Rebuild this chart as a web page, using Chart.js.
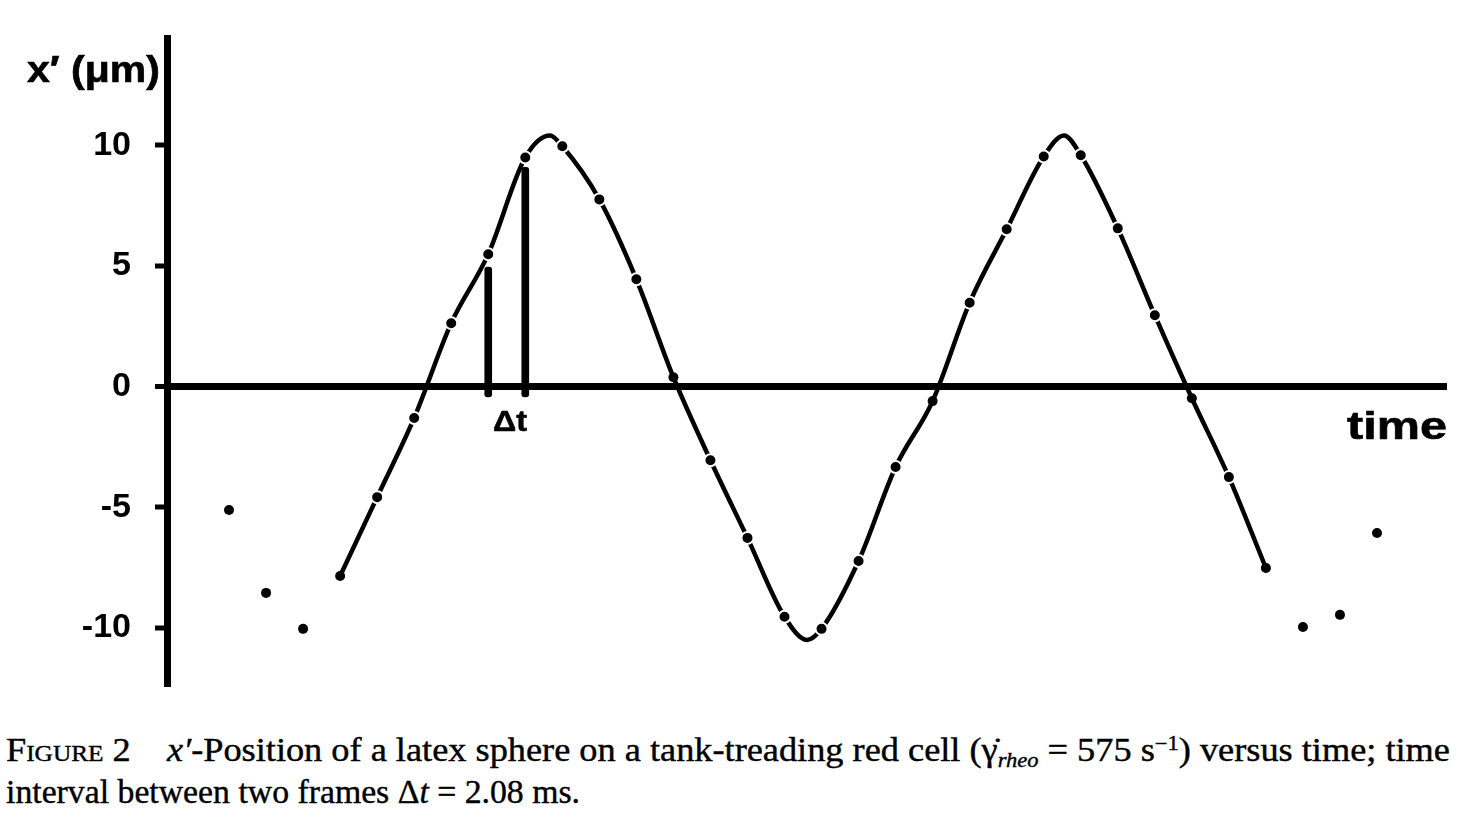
<!DOCTYPE html>
<html>
<head>
<meta charset="utf-8">
<script src="https://cdn.jsdelivr.net/npm/chart.js@4/dist/chart.umd.min.js"></script>
<style>
  html, body { margin: 0; padding: 0; background: #fff; }
  body { width: 1458px; height: 828px; position: relative; overflow: hidden; }
  #c { position: absolute; left: 0; top: 0; }
  .lbl { position: absolute; white-space: pre; line-height: 1; color: #000; transform-origin: 0 0; }
  .sans { font-family: "Liberation Sans", Arial, sans-serif; font-weight: bold; -webkit-text-stroke: 0.6px #000; }
  .serif { font-family: "Liberation Serif", "Times New Roman", serif; font-size: 33px; -webkit-text-stroke: 0.4px #000; }
  .serif sub, .serif sup { vertical-align: baseline; position: relative; font-size: 0.62em; }
  .serif sub { top: 0.3em; }
  .serif sup { top: -0.55em; }
</style>
</head>
<body>
<canvas id="c" width="1458" height="720"></canvas>

<div class="lbl sans" style="left:27px; top:52px; font-size:36px;" data-w="133">x′ (μm)</div>
<div class="lbl sans" style="left:1347px; top:407px; font-size:38px;" data-w="100">time</div>
<div class="lbl sans" style="left:493px; top:406px; font-size:30px;" data-w="34">Δt</div>

<div class="lbl serif" style="left:6px; top:734px;" data-w="1444"><span style="font-variant:small-caps">Figure</span> 2    <i>x′</i>-Position of a latex sphere on a tank-treading red cell (γ̇<sub><i>rheo</i></sub> = 575 s<sup>−1</sup>) versus time; time</div>
<div class="lbl serif" style="left:6px; top:776px;" data-w="574">interval between two frames Δ<i>t</i> = 2.08 ms.</div>

<script>
// ---- data ----
const frames = [1,2,3,4,5,6,7,8,9,10,11,12,13,14,15,16,17,18,19,20,21,22,23,24,25,26,27,28,29,30,31,32];
const positions = [-5.11,-8.55,-10.04,-7.85,-4.58,-1.30,2.63,5.49,9.50,9.96,7.76,4.45,0.39,-3.05,-6.27,-9.54,-10.04,-7.23,-3.33,-0.60,3.48,6.52,9.54,9.59,6.56,2.96,-0.48,-3.75,-7.52,-9.96,-9.46,-6.07];
// fitted curve: drawn through frames 4..29, with its turning points
const curveFirstFrame = 4;
const curveLastFrame = 29;
const extremaFrames = [9.67, 16.61, 23.55];
const extremaValues = [10.41, -10.50, 10.41];
// the two Δt marker bars
const barFrames = [8, 9];
const barLow = [-0.43, -0.43];
const barHigh = [4.95, 9.09];
// axis
const yTicks = [-10, -5, 0, 5, 10];
const yMin = -12.45, yMax = 14.45;
const xMin = -0.675, xMax = 33.89;

// ---- build datasets ----
const dotData = frames.map((f, i) => ({ x: f, y: positions[i] }));
let curveData = frames.map((f, i) => ({ x: f, y: positions[i] }))
  .filter(p => p.x >= curveFirstFrame && p.x <= curveLastFrame)
  .concat(extremaFrames.map((f, i) => ({ x: f, y: extremaValues[i] })));
curveData.sort((a, b) => a.x - b.x);
const barData = barFrames.map((f, i) => ({ x: f, y: [barLow[i], barHigh[i]] }));

// small white gap where the drawn curve meets a measured dot (not near the zero line)
const onCurve = c => {
  const p = c.raw; if (!p) return false;
  return p.x > curveFirstFrame && p.x < curveLastFrame && Math.abs(p.y) > 1.2;
};

new Chart(document.getElementById('c'), {
  data: {
    datasets: [
      { type: 'scatter', data: dotData, order: 0,
        pointRadius: c => onCurve(c) ? 6 : 5, pointHoverRadius: 5,
        pointBackgroundColor: '#000', pointBorderColor: '#fff',
        pointBorderWidth: c => onCurve(c) ? 2 : 0, showLine: false },
      { type: 'bar', data: barData, order: 1,
        backgroundColor: '#000', barThickness: 7, borderRadius: 3, borderSkipped: false },
      { type: 'line', data: curveData, order: 2,
        borderColor: '#000', borderWidth: 4.5, pointRadius: 0, fill: false,
        cubicInterpolationMode: 'monotone', borderCapStyle: 'round' }
    ]
  },
  options: {
    responsive: false,
    animation: false,
    devicePixelRatio: 1,
    layout: { padding: { top: 38, bottom: 33, left: 0, right: 11 } },
    plugins: { legend: { display: false }, tooltip: { enabled: false } },
    events: [],
    scales: {
      x: { type: 'linear', min: xMin, max: xMax, display: false, offset: false, grid: { offset: false } },
      y: {
        type: 'linear', min: yMin, max: yMax,
        afterBuildTicks: s => { s.ticks = yTicks.map(v => ({ value: v })); },
        afterFit: s => { s.width = 167; s.paddingTop = 0; s.paddingBottom = 0; },
        border: { display: true, color: '#000', width: 7 },
        grid: {
          drawOnChartArea: true, drawTicks: true, tickLength: 12,
          color: c => (c.tick && c.tick.value === 0) ? '#000' : 'rgba(0,0,0,0)',
          lineWidth: c => (c.tick && c.tick.value === 0) ? 7 : 0,
          tickColor: '#000', tickWidth: 5
        },
        ticks: {
          color: '#000', padding: 24,
          font: { family: '"Liberation Sans", Arial, sans-serif', weight: 'bold', size: 34 }
        }
      }
    }
  }
});

// fit free text to the measured widths of the reference
document.querySelectorAll('.lbl[data-w]').forEach(el => {
  const w = el.getBoundingClientRect().width;
  const target = parseFloat(el.dataset.w);
  if (w > 0) el.style.transform = 'scaleX(' + (target / w) + ')';
});
</script>
</body>
</html>
